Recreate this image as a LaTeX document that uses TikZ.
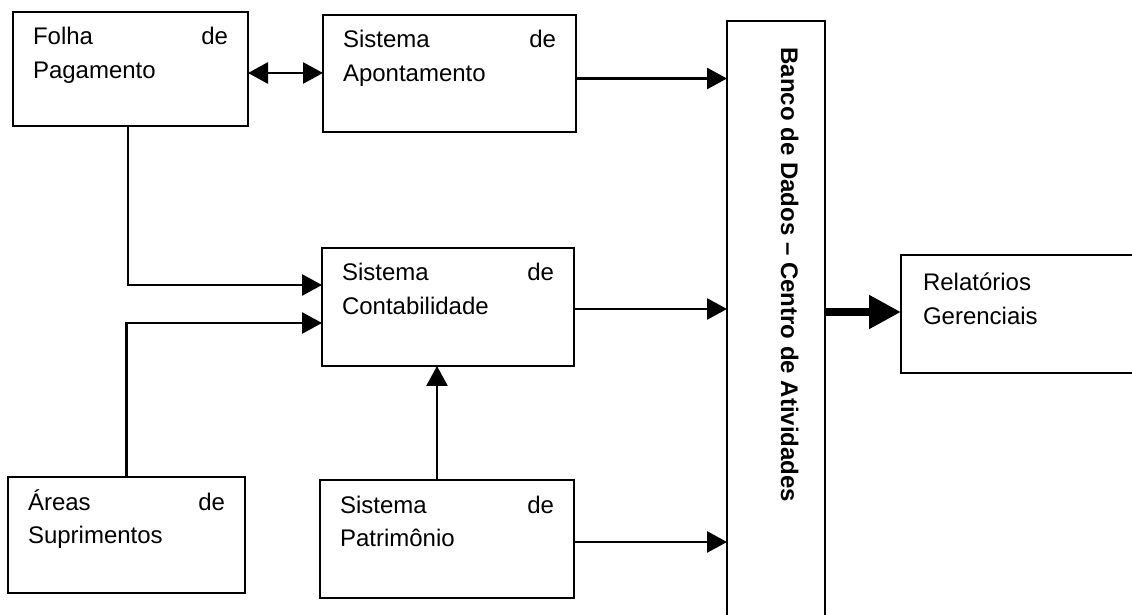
\documentclass[tikz,border=0pt]{standalone}
\usepackage{fontspec}
\setmainfont{Liberation Sans}
\usetikzlibrary{arrows.meta,calc}
\newcommand\boxtxt[3]{\parbox[t][#1][t]{#2}{\fontsize{12}{17}\selectfont\rule{0pt}{16.5pt}#3}}
\newcommand\spreadfill{\hspace{0pt plus 1filll}}
\tikzset{
  box/.style={draw, line width=1.4pt, inner xsep=10pt, inner ysep=0pt, outer sep=0pt, anchor=north west},
  conn/.style={line width=1.4pt},
  arr/.style={conn, -{Triangle[length=10pt,width=10.5pt]}},
  darr/.style={conn, {Triangle[length=10pt,width=10.5pt]}-{Triangle[length=10pt,width=10.5pt]}},
  bigarr/.style={line width=4pt, -{Triangle[length=16pt,width=16pt]}},
  bancofont/.style={font=\bfseries\fontsize{12}{14}\selectfont}
}
\begin{document}
\begin{tikzpicture}[x=0.5pt, y=-0.5pt]
\useasboundingbox (0,0) rectangle (1132,615);
\clip (0,0) rectangle (1132,615);
\fill[white] (0,0) rectangle (1132,615);

\node[box] (folha) at (13,12) {\boxtxt{57pt}{97.5pt}{Folha\spreadfill de\\Pagamento}};
\node[box] (apon) at (323,15) {\boxtxt{58.5pt}{106.5pt}{Sistema\spreadfill de\\Apontamento}};
\node[box] (conta) at (322,248) {\boxtxt{59pt}{106pt}{Sistema\spreadfill de\\Contabilidade}};
\node[box] (areas) at (8,477) {\boxtxt{58pt}{98.5pt}{Áreas\spreadfill de\\Suprimentos}};
\node[box] (patr) at (320,480) {\boxtxt{59pt}{107pt}{Sistema\spreadfill de\\Patrimônio}};
\node[box, inner xsep=11pt] (rel) at (901,255) {\boxtxt{59pt}{98.5pt}{\rule{0pt}{18pt}Relatórios\\Gerenciais}};

\node[draw, line width=1.4pt, minimum width=49pt, minimum height=300pt, inner sep=0pt, outer sep=0pt, anchor=north west] (banco) at (727,21) {};
\node[rotate=-90, anchor=base, inner sep=0pt, bancofont] (bancotxt) at (781,275) {Banco de Dados – Centro de Atividades};

\draw[darr] ([yshift=-2pt]folha.east) -- ([yshift=-2pt]folha.east -| apon.west);
\draw[arr] ([yshift=-2.5pt]apon.east) -- ([yshift=-2.5pt]apon.east -| banco.west);
\draw[arr] ([xshift=-1.25pt]folha.south) |- ([yshift=11pt]conta.west);
\draw[arr] (areas.north) |- ([yshift=-8pt]conta.west);
\draw[arr] ([xshift=-5pt]patr.north) -- ([xshift=-5pt]patr.north |- conta.south);
\draw[arr] ([yshift=-1pt]conta.east) -- ([yshift=-1pt]conta.east -| banco.west);
\draw[arr] ([yshift=-1.5pt]patr.east) -- ([yshift=-1.5pt]patr.east -| banco.west);
\draw[bigarr] ([yshift=1pt]rel.west -| banco.east) -- ([yshift=1pt]rel.west);
\end{tikzpicture}
\end{document}
